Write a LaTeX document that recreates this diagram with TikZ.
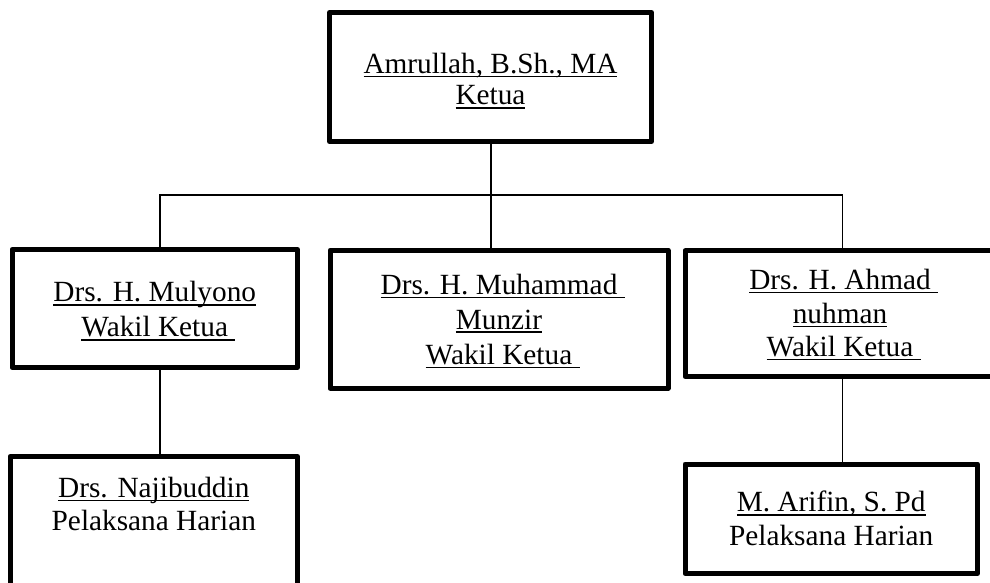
\documentclass[tikz,border=0pt]{standalone}
\usepackage{fontspec}
\setmainfont{Liberation Serif}
\newcommand\ulx[1]{\setbox0\hbox{#1}\rlap{\rule[-3.8pt]{\wd0}{1.5pt}}\box0}
\newcommand\ulxs[1]{\setbox0\hbox{#1\ }\rlap{\rule[-3.8pt]{\wd0}{1.5pt}}\hbox{#1}}
\begin{document}
\begin{tikzpicture}[x=1pt,y=-1pt,
  box/.style={draw,line width=5pt,line join=round,inner sep=0pt},
  conn/.style={line width=1.6pt},
  lbl/.style={anchor=base,inner sep=0pt,font=\fontsize{29.3}{34}\selectfont}]
\useasboundingbox (0,0) rectangle (990,583);
\clip (0,0) rectangle (990,583);
% boxes
\node[box,minimum width=322pt,minimum height=129pt] (top) at (490.5,77) {};
\node[box,minimum width=285.5pt,minimum height=118pt] (lmid) at (154.75,308.5) {};
\node[box,minimum width=338pt,minimum height=138pt] (cmid) at (499,319.2) {};
\node[box,minimum width=310pt,minimum height=125.7pt] (rmid) at (840,313.65) {};
\node[box,minimum width=287.5pt,minimum height=153.5pt] (lbot) at (153.75,533.25) {};
\node[box,minimum width=292.5pt,minimum height=109.5pt] (rbot) at (831.25,518.75) {};
% junctions
\coordinate (jl) at (160,195);
\coordinate (jc) at (491,195);
\coordinate (jr) at (842.3,195);
% connectors
\draw[conn] (jc |- top.south) -- (jc |- cmid.north);
\draw[conn] (jl |- lmid.north) -- (jl) -- (jr) -- (jr |- rmid.north);
\draw[conn] (jl |- lmid.south) -- (jl |- lbot.north);
\draw[conn] (jr |- rmid.south) -- (jr |- rbot.north);
% texts
\node[lbl] (t1) at (490.5,73.3) {\ulx{Amrullah, B.Sh., MA}};
\node[lbl] (t2) at (490.5,105) {\ulx{Ketua}};
\node[lbl] (l1) at (154.75,301.7) {\ulx{Drs. H. Mulyono}};
\node[lbl] (l2) at (154.75,336.7) {\ulxs{Wakil Ketua}};
\node[lbl] (c1) at (499,294.3) {\ulxs{Drs. H. Muhammad}};
\node[lbl] (c2) at (499,329) {\ulx{Munzir}};
\node[lbl] (c3) at (499,364.3) {\ulxs{Wakil Ketua}};
\node[lbl] (r1) at (840,289.5) {\ulxs{Drs. H. Ahmad}};
\node[lbl] (r2) at (840,323.5) {\ulx{nuhman}};
\node[lbl] (r3) at (840,356.5) {\ulxs{Wakil Ketua}};
\node[lbl] (b1) at (153.8,497.3) {\ulx{Drs. Najibuddin}};
\node[lbl] (b2) at (153.8,530.7) {Pelaksana Harian};
\node[lbl] (s1) at (831.2,511.7) {\ulx{M. Arifin, S. Pd}};
\node[lbl] (s2) at (831.2,545.7) {Pelaksana Harian};
\end{tikzpicture}
\end{document}
